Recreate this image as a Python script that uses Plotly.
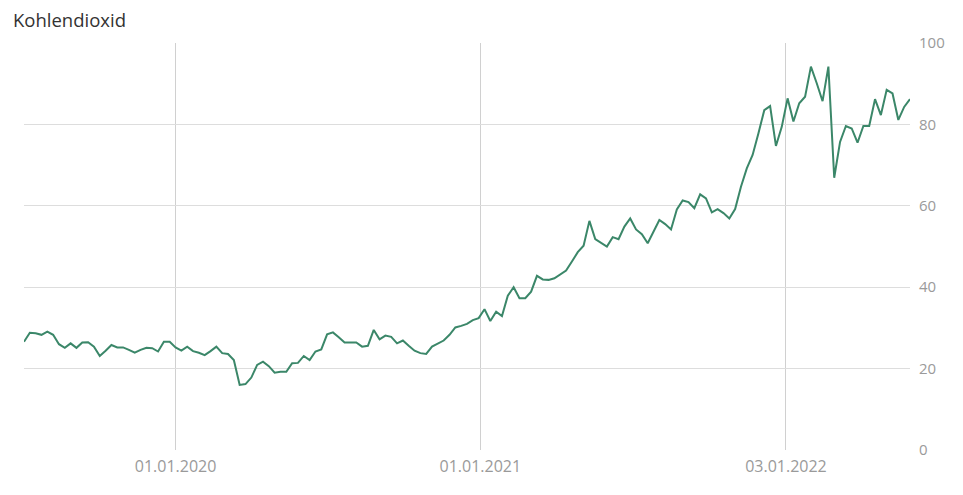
import pandas as pd
import plotly.graph_objects as go

start_date = "2019-07-03"
values = [
    26.6, 28.8, 28.7, 28.3, 29.1, 28.3, 26.0, 25.1, 26.2, 25.1, 26.4, 26.5, 25.4, 23.1, 24.4, 25.8,
    25.2, 25.2, 24.6, 23.9, 24.6, 25.1, 25.0, 24.2, 26.6, 26.6, 25.2, 24.4, 25.4, 24.3, 23.9, 23.3,
    24.3, 25.4, 23.8, 23.6, 22.1, 16.0, 16.2, 17.8, 20.9, 21.7, 20.6, 19.0, 19.2, 19.2, 21.3, 21.4,
    23.1, 22.1, 24.2, 24.7, 28.4,
    28.9, 27.7, 26.4, 26.4, 26.4, 25.4, 25.6, 29.5, 27.2, 28.1, 27.8, 26.2, 26.9, 25.6, 24.4, 23.8,
    23.6, 25.4, 26.2, 26.9, 28.3, 30.1, 30.5, 31.0, 31.9, 32.4, 34.6, 31.7, 34.0, 32.9, 37.9, 40.0,
    37.3, 37.3, 38.9, 42.8, 41.9, 41.8, 42.2, 43.2, 44.1, 46.3, 48.6, 50.2, 56.3, 51.8, 50.9, 50.0,
    52.3, 51.8, 54.9, 56.9, 54.2,
    53.0, 50.8,
    53.6, 56.5, 55.5, 54.2, 59.1, 61.3, 60.9, 59.4, 62.8, 61.8, 58.4, 59.2, 58.2, 56.9, 59.2, 64.7,
    69.2, 72.5, 77.8, 83.5, 84.5, 74.7, 79.4, 86.4, 80.7, 85.2, 86.8, 94.2, 90.1, 85.7, 94.2, 66.9,
    75.7, 79.6, 79.0, 75.5, 79.6, 79.6, 86.2, 82.3, 88.5, 87.6, 81.1, 84.3, 86.2,
]
dates = pd.date_range(start=start_date, periods=len(values), freq="7D")

x_tickvals = ["2020-01-01", "2021-01-01", "2022-01-03"]
x_ticktext = ["01.01.2020", "01.01.2021", "03.01.2022"]
y_tickvals = [0, 20, 40, 60, 80, 100]
title_text = "Kohlendioxid"

# the page body adds an 8px offset, so the figure is sized to fit the window
W, H = 955, 487

fig = go.Figure()
fig.add_trace(go.Scatter(
    x=dates, y=values, mode="lines",
    line=dict(color="#3b8769", width=2),
    hoverinfo="x+y", showlegend=False,
))

fig.add_annotation(
    text=title_text, xref="paper", yref="paper", x=0, y=1,
    xanchor="left", yanchor="middle", xshift=-13, yshift=24,
    showarrow=False,
    font=dict(family="Open Sans", size=18.5, color="#333333"),
)

fig.update_layout(
    width=W, height=H,
    margin=dict(l=16, r=53, t=35, b=45, autoexpand=False),
    paper_bgcolor="white", plot_bgcolor="white",
    font=dict(family="Open Sans", size=14, color="#999999"),
    xaxis=dict(
        type="date",
        range=[dates[0], dates[-1]],
        tickvals=x_tickvals, ticktext=x_ticktext,
        showgrid=True, gridcolor="#d0d0d0", gridwidth=1,
        zeroline=False, showline=False, ticks="",
        ticklabelstandoff=5,
        tickfont=dict(family="Open Sans", size=16, color="#9a9a9a"),
    ),
    yaxis=dict(
        side="right", range=[0, 100],
        tickvals=y_tickvals,
        showgrid=True, gridcolor="#dddddd", gridwidth=1,
        zeroline=False, showline=False, ticks="",
        ticklabelstandoff=8,
        tickfont=dict(family="Open Sans", size=15, color="#9a9a9a"),
    ),
)

fig.write_html("out.html")
